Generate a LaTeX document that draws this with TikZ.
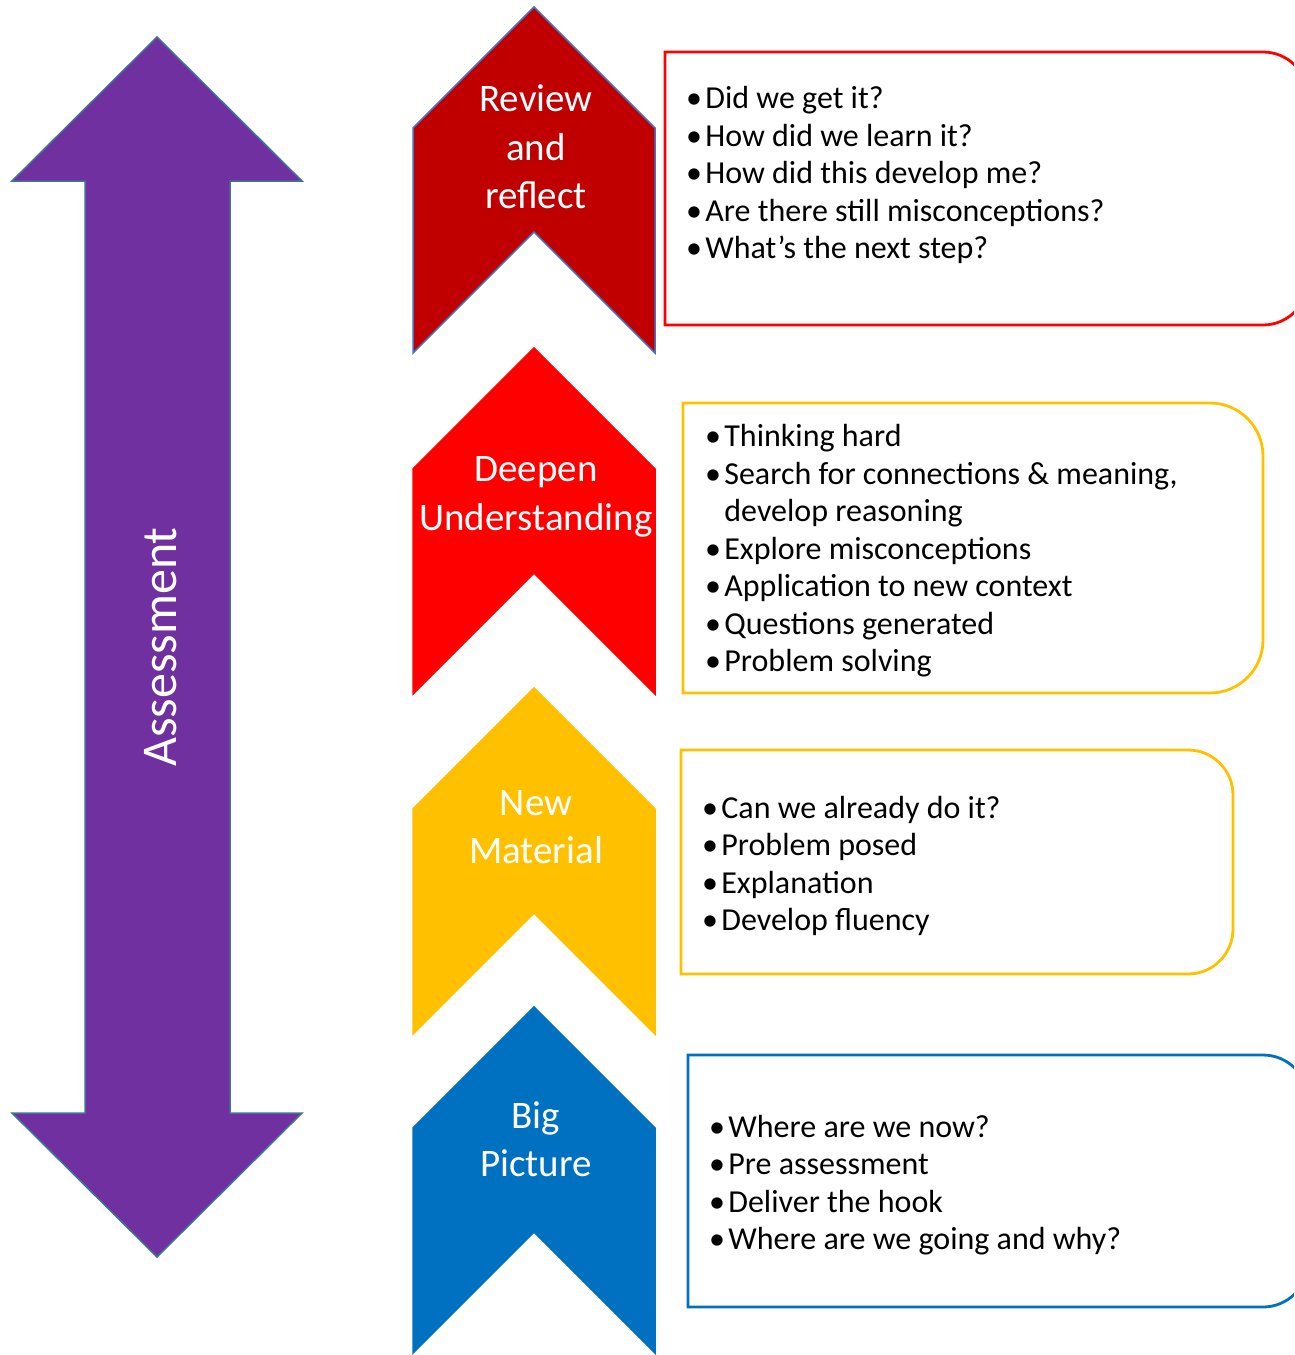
\documentclass[tikz,border=0pt]{standalone}
\usepackage{fontspec}
\setmainfont{Carlito}
\usepackage{xcolor}
\usetikzlibrary{positioning}

\definecolor{revred}{HTML}{C00000}
\definecolor{deepred}{HTML}{FF0000}
\definecolor{newgold}{HTML}{FFC000}
\definecolor{bigblue}{HTML}{0070C0}
\definecolor{assesspurple}{HTML}{7030A0}
\definecolor{arrowedge}{HTML}{41719C}
\definecolor{chevedge}{HTML}{4472C4}

\newcommand{\bul}{\makebox[0.6em][l]{\textbullet}}

\begin{document}
\begin{tikzpicture}[x=1pt, y=-1pt]
    \tikzstyle{chev} = [line width=1.5pt, line join=miter]
    \tikzstyle{lbl} = [text=white, align=center, inner sep=0pt, font=\fontsize{39}{48.5}\selectfont]
    \tikzstyle{info} = [anchor=west, align=left, inner sep=0pt, font=\fontsize{32}{37.5}\selectfont]
    \tikzstyle{tab} = [line width=2.8pt]

    \useasboundingbox (0,0) rectangle (1294,1355);
    \clip (0,0) rectangle (1294,1355);

    % assessment double arrow
    \filldraw[fill=assesspurple, draw=arrowedge, line width=1.5pt] (157,37) -- (302,181) -- (230,181) -- (230,1113) -- (302,1113) -- (157,1257) -- (12,1113) -- (85,1113) -- (85,181) -- (12,181) -- cycle;
    \node[rotate=90, text=white, font=\fontsize{50}{60}\selectfont] (assess) at (161,647) {Assessment};

    % chevrons
    \foreach \y/\c/\e in {7/revred/chevedge, 348/deepred/deepred, 688/newgold/newgold, 1007/bigblue/bigblue}
        \filldraw[chev, fill=\c, draw=\e] (534,\y) -- (655,\y+121) -- (655,\y+346) -- (534,\y+225) -- (413,\y+346) -- (413,\y+121) -- cycle;

    \node[lbl] (review) at (536,147) {Review\\and\\reflect};
    \node[lbl] (deepen) at (536,497) {Deepen\\Understanding};
    \node[lbl] (newmat) at (536,827) {New\\Material};
    \node[lbl] (bigpic) at (536,1139) {Big\\Picture};

    % boxes, rounded on the right only
    \draw[tab, draw=deepred] (665,52) -- (1263,52) arc(-90:0:45) -- (1308,280) arc(0:90:45) -- (665,325) -- cycle;
    \draw[tab, draw=newgold] (683,403) -- (1210,403) arc(-90:0:53) -- (1263,640) arc(0:90:53) -- (683,693) -- cycle;
    \draw[tab, draw=newgold] (681,750) -- (1188,750) arc(-90:0:45) -- (1233,929) arc(0:90:45) -- (681,974) -- cycle;
    \draw[tab, draw=bigblue] (688,1055) -- (1263,1055) arc(-90:0:45) -- (1308,1262) arc(0:90:45) -- (688,1307) -- cycle;

    \node[info] (revlist) at (686,175) {\bul Did we get it?\\\bul How did we learn it?\\\bul How did this develop me?\\\bul Are there still misconceptions?\\\bul What’s the next step?};
    \node[info] (deeplist) at (705,551) {\bul Thinking hard\\\bul Search for connections \& meaning,\\\hspace*{0.6em}develop reasoning\\\bul Explore misconceptions\\\bul Application to new context\\\bul Questions generated\\\bul Problem solving};
    \node[info] (newlist) at (702,866) {\bul Can we already do it?\\\bul Problem posed\\\bul Explanation\\\bul Develop fluency};
    \node[info] (biglist) at (709,1185) {\bul Where are we now?\\\bul Pre assessment\\\bul Deliver the hook\\\bul Where are we going and why?};
\end{tikzpicture}
\end{document}
